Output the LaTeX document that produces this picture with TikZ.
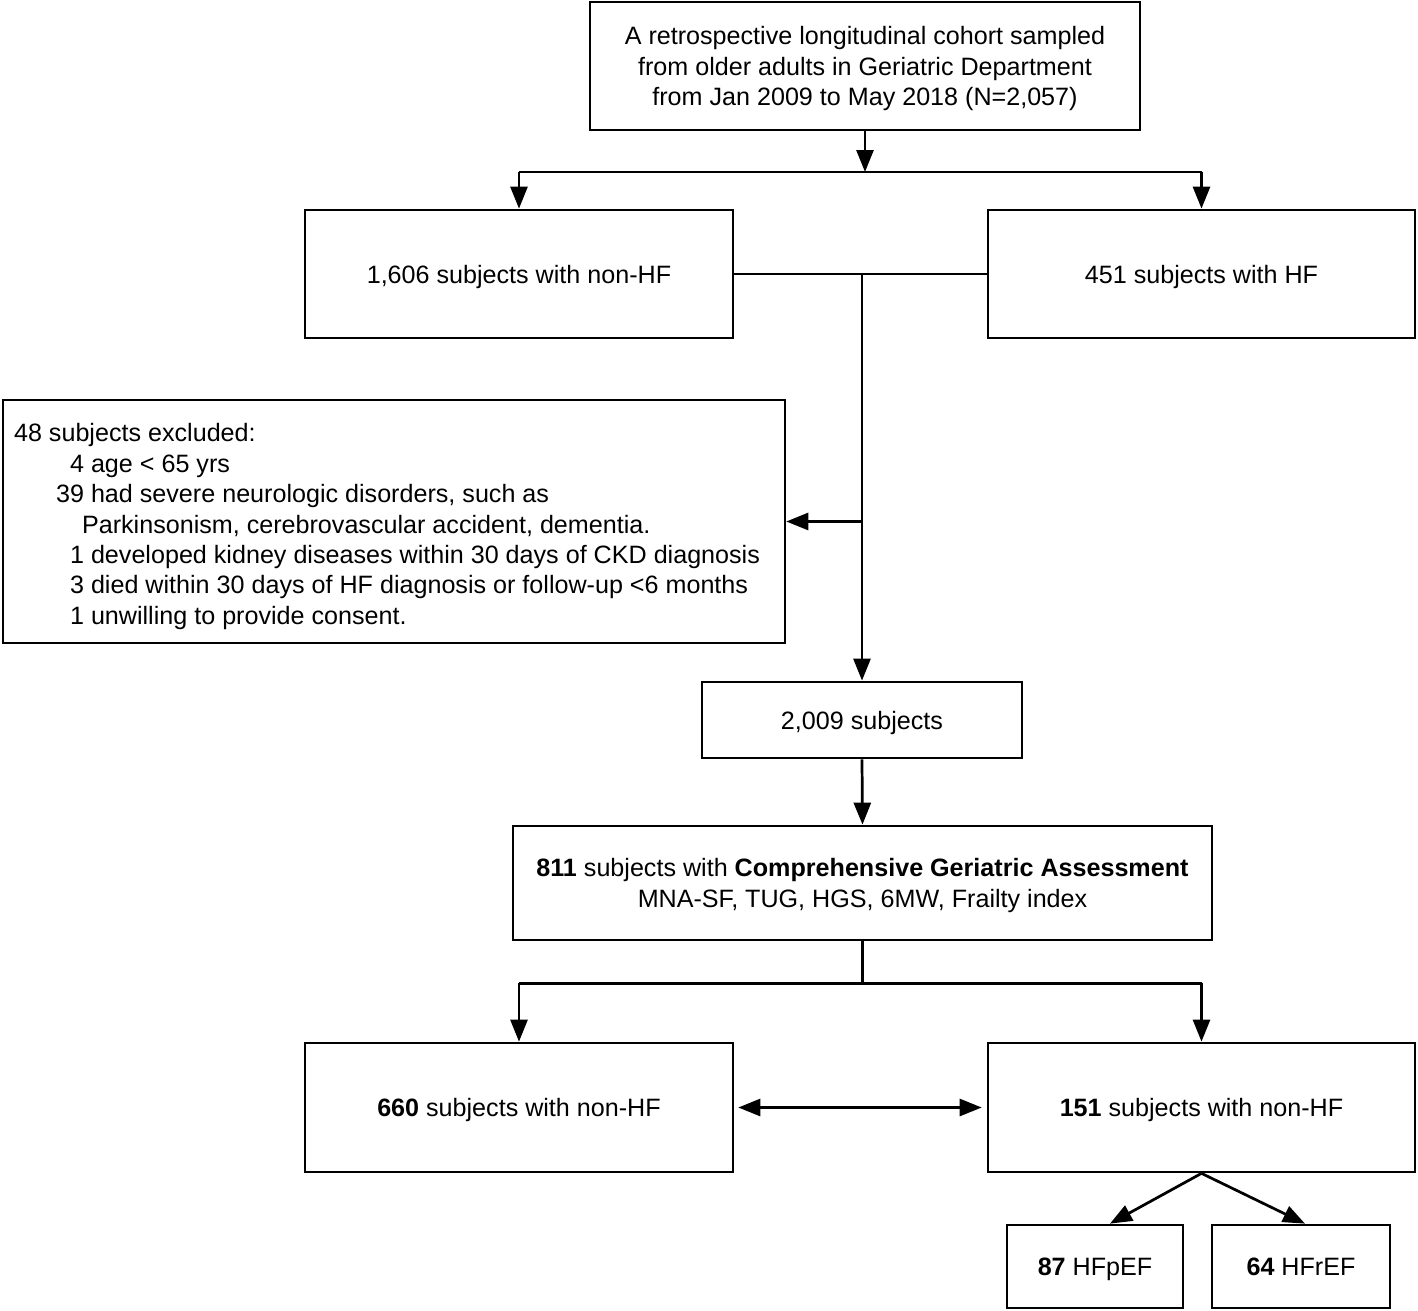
\documentclass[tikz,border=0pt]{standalone}
\usepackage{fontspec}
\setmainfont{Liberation Sans}
\usetikzlibrary{arrows.meta,positioning}
\tikzset{
	box/.style={draw, line width=1.55pt, align=center, inner sep=0pt, text depth=-0.08cm, font=\fontsize{14.3}{17.3}\selectfont},
	ln/.style={line width=1.55pt},
	arr/.style={line width=1.55pt, -{Triangle[length=0.44cm,width=0.34cm]}},
}
\newcommand{\exnum}[1]{\makebox[1.4cm][r]{#1}}

\begin{document}
\begin{tikzpicture}[x=0.02cm,y=-0.02cm]
			%%%%% START %%%%%
			\useasboundingbox (0,0) rectangle (1418,1311);
			
			\node[box, minimum width=11cm, minimum height=2.56cm] (cohort) at (865,66) {A retrospective longitudinal cohort sampled\\from older adults in Geriatric Department\\from Jan 2009 to May 2018 (N=2,057)};
			
			\node[box, minimum width=8.56cm, minimum height=2.56cm] (nonhf) at (519,274) {1,606 subjects with non-HF};
			\node[box, minimum width=8.54cm, minimum height=2.56cm] (hf) at (1201.5,274) {451 subjects with HF};
			
			\node[box, align=flush left, text width=15.2cm, text depth=3.55cm, inner xsep=0.22cm, minimum width=15.64cm, minimum height=4.86cm] (excl) at (394,521.5) {48 subjects excluded:\\
				\exnum{4} age < 65 yrs\\
				\exnum{39} had severe neurologic disorders, such as\\
				\hspace*{1.36cm}Parkinsonism, cerebrovascular accident, dementia.\\
				\exnum{1} developed kidney diseases within 30 days of CKD diagnosis\\
				\exnum{3} died within 30 days of HF diagnosis or follow-up <6 months\\
				\exnum{1} unwilling to provide consent.};
			
			\node[box, minimum width=6.4cm, minimum height=1.52cm] (n2009) at (862,720) {2,009 subjects};
			\node[box, minimum width=13.98cm, minimum height=2.28cm] (cga) at (862.5,883) {{\bfseries 811} subjects with {\bfseries Comprehensive Geriatric Assessment}\\MNA-SF, TUG, HGS, 6MW, Frailty index};
			
			\node[box, minimum width=8.56cm, minimum height=2.58cm] (b660) at (519,1107.5) {{\bfseries 660} subjects with non-HF};
			\node[box, minimum width=8.54cm, minimum height=2.58cm] (b151) at (1201.5,1107.5) {{\bfseries 151} subjects with non-HF};
			
			\node[box, minimum width=3.52cm, minimum height=1.66cm] (pef) at (1095,1266.5) {{\bfseries 87} HFpEF};
			\node[box, minimum width=3.56cm, minimum height=1.66cm] (ref) at (1301,1266.5) {{\bfseries 64} HFrEF};
			
			%%%%% CONNECTORS %%%%%
			\coordinate (topsplit) at (865,172);
			\draw[arr] (cohort.south) -- (topsplit);
			\draw[ln] (nonhf.north |- topsplit) -- (hf.north |- topsplit);
			\draw[arr] (nonhf.north |- topsplit) -- (nonhf.north);
			\draw[arr] (hf.north |- topsplit) -- (hf.north);
			
			\draw[ln] (nonhf.east) -- (hf.west);
			\coordinate (mid) at (nonhf.east -| n2009.north);
			\draw[arr] (mid) -- (n2009.north);
			\draw[arr] (mid |- excl.east) -- (excl.east);
			
			\draw[arr] (n2009.south) -- (cga.north);
			\draw[ln] (cga.south) -- ++(0,42) coordinate (lowsplit);
			\draw[ln] (b660.north |- lowsplit) -- (b151.north |- lowsplit);
			\draw[arr] (b660.north |- lowsplit) -- (b660.north);
			\draw[arr] (b151.north |- lowsplit) -- (b151.north);
			
			\draw[arr, {Triangle[length=0.44cm,width=0.34cm]}-{Triangle[length=0.44cm,width=0.34cm]}, shorten <=0.08cm, shorten >=0.1cm] (b660.east) -- (b151.west);
			
			\draw[arr] (b151.south) -- ([xshift=0.3cm]pef.north);
			\draw[arr] (b151.south) -- ([xshift=0.08cm]ref.north);
			%%%%% END %%%%%
		\end{tikzpicture}
\end{document}
